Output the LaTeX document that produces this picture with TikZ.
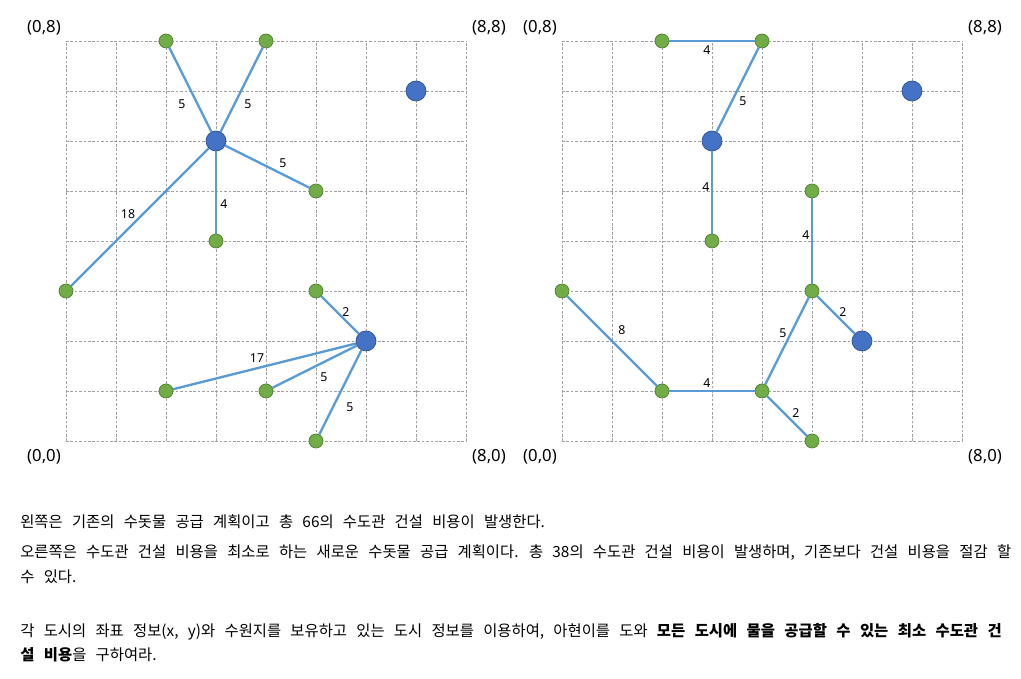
\documentclass[tikz,border=0pt]{standalone}
\usepackage{fontspec}
\setmainfont{Noto Sans}
\newfontfamily\kor[WordSpace=2.7]{Noto Sans CJK KR}
\usetikzlibrary{positioning}
\definecolor{pipeblue}{HTML}{5B9BD5}
\definecolor{srcblue}{HTML}{4472C4}
\definecolor{srcedge}{HTML}{2F528F}
\definecolor{citygreen}{HTML}{70AD47}
\definecolor{cityedge}{HTML}{507E32}
\definecolor{gridgray}{HTML}{A0A0A0}
\tikzset{
  gridline/.style={gridgray, line width=0.5pt, dash pattern=on 1.5pt off 1pt},
  src/.style={circle, fill=srcblue, draw=srcedge, line width=0.4pt,
              minimum size=0.4cm, inner sep=0pt},
  city/.style={circle, fill=citygreen, draw=cityedge, line width=0.4pt,
               minimum size=0.28cm, inner sep=0pt},
  pipe/.style={pipeblue, line width=1.35pt},
  cost/.style={font=\fontsize{7}{8}\selectfont, inner sep=0pt},
  corner/.style={font=\fontsize{9.5}{11}\selectfont, inner sep=0pt},
  desc/.style={font=\kor\fontsize{8.75}{10}\selectfont, anchor=west, inner sep=0pt},
}
\begin{document}
\begin{tikzpicture}
  \useasboundingbox (-1.32,-4.76) rectangle (19.1,8.82);

  %% ── existing plan (left) ──
  \draw[gridline] (0,0) grid (8,8);
  \node[corner] (Lc08) at (-0.44,8.26) {(0,8)};
  \node[corner] (Lc88) at (8.46,8.26) {(8,8)};
  \node[corner] (Lc00) at (-0.44,-0.32) {(0,0)};
  \node[corner] (Lc80) at (8.46,-0.32) {(8,0)};
  \node[src]  (Lw36) at (3,6) {};
  \node[src]  (Lw77) at (7,7) {};
  \node[src]  (Lw62) at (6,2) {};
  \node[city] (La28) at (2,8) {};
  \node[city] (La48) at (4,8) {};
  \node[city] (La55) at (5,5) {};
  \node[city] (La34) at (3,4) {};
  \node[city] (La03) at (0,3) {};
  \node[city] (La53) at (5,3) {};
  \node[city] (La21) at (2,1) {};
  \node[city] (La41) at (4,1) {};
  \node[city] (La50) at (5,0) {};
  \draw[pipe] (Lw36) -- (La28);
  \draw[pipe] (Lw36) -- (La48);
  \draw[pipe] (Lw36) -- (La55);
  \draw[pipe] (Lw36) -- (La34);
  \draw[pipe] (Lw36) -- (La03);
  \draw[pipe] (Lw62) -- (La53);
  \draw[pipe] (Lw62) -- (La21);
  \draw[pipe] (Lw62) -- (La41);
  \draw[pipe] (Lw62) -- (La50);
  \node[cost] at (2.32,6.74) {5};
  \node[cost] at (3.64,6.74) {5};
  \node[cost] at (4.34,5.56) {5};
  \node[cost] at (3.16,4.74) {4};
  \node[cost] at (1.24,4.54) {18};
  \node[cost] at (5.60,2.58) {2};
  \node[cost] at (3.82,1.66) {17};
  \node[cost] at (5.16,1.28) {5};
  \node[cost] at (5.68,0.68) {5};

  %% ── new plan (right) ──
  \begin{scope}[xshift=9.92cm]
    \draw[gridline] (0,0) grid (8,8);
    \node[corner] (Rc08) at (-0.44,8.26) {(0,8)};
    \node[corner] (Rc88) at (8.46,8.26) {(8,8)};
    \node[corner] (Rc00) at (-0.44,-0.32) {(0,0)};
    \node[corner] (Rc80) at (8.46,-0.32) {(8,0)};
    \node[src]  (Rw36) at (3,6) {};
    \node[src]  (Rw77) at (7,7) {};
    \node[src]  (Rw62) at (6,2) {};
    \node[city] (Ra28) at (2,8) {};
    \node[city] (Ra48) at (4,8) {};
    \node[city] (Ra55) at (5,5) {};
    \node[city] (Ra34) at (3,4) {};
    \node[city] (Ra03) at (0,3) {};
    \node[city] (Ra53) at (5,3) {};
    \node[city] (Ra21) at (2,1) {};
    \node[city] (Ra41) at (4,1) {};
    \node[city] (Ra50) at (5,0) {};
    \draw[pipe] (Ra28) -- (Ra48);
    \draw[pipe] (Ra48) -- (Rw36);
    \draw[pipe] (Rw36) -- (Ra34);
    \draw[pipe] (Ra55) -- (Ra53);
    \draw[pipe] (Ra53) -- (Rw62);
    \draw[pipe] (Ra03) -- (Ra21);
    \draw[pipe] (Ra21) -- (Ra41);
    \draw[pipe] (Ra41) -- (Ra53);
    \draw[pipe] (Ra41) -- (Ra50);
    \node[cost] at (2.90,7.82) {4};
    \node[cost] at (3.62,6.80) {5};
    \node[cost] at (2.88,5.08) {4};
    \node[cost] at (4.88,4.12) {4};
    \node[cost] at (5.62,2.58) {2};
    \node[cost] at (1.20,2.22) {8};
    \node[cost] at (4.42,2.16) {5};
    \node[cost] at (2.90,1.16) {4};
    \node[cost] at (4.68,0.56) {2};
  \end{scope}

  %% ── description ──
  \node[desc] (t1) at (-0.92,-1.62) {왼쪽은 기존의 수돗물 공급 계획이고 총 66의 수도관 건설 비용이 발생한다.};
  \node[desc] (t2) at (-0.92,-2.24) {오른쪽은 수도관 건설 비용을 최소로 하는 새로운 수돗물 공급 계획이다. 총 38의 수도관 건설 비용이 발생하며, 기존보다 건설 비용을 절감 할};
  \node[desc] (t3) at (-0.92,-2.72) {수 있다.};
  \node[desc] (t4) at (-0.92,-3.82) {각 도시의 좌표 정보(x, y)와 수원지를 보유하고 있는 도시 정보를 이용하여, 아현이를 도와 \textbf{모든 도시에 물을 공급할 수 있는 최소 수도관 건}};
  \node[desc] (t5) at (-0.92,-4.28) {\textbf{설 비용}을 구하여라.};
\end{tikzpicture}
\end{document}
